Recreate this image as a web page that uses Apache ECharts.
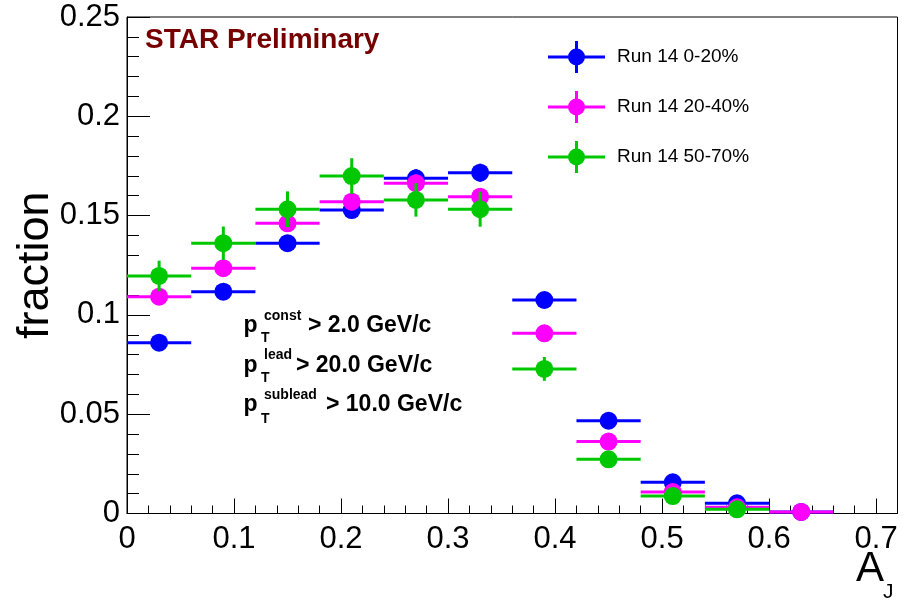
<!DOCTYPE html>
<html>
<head>
<meta charset="utf-8">
<title>Dijet momentum imbalance A_J</title>
<script src="https://cdn.jsdelivr.net/npm/echarts@6/dist/echarts.min.js"></script>
<style>
  html, body { margin: 0; padding: 0; background: #fff; }
  #chart { width: 911px; height: 601px; }
</style>
</head>
<body>
<div id="chart"></div>
<script>
// A_J bins: centres and full bin width
const binCenters = [0.03, 0.09, 0.15, 0.21, 0.27, 0.33, 0.39, 0.45, 0.51, 0.57, 0.63];
const binWidth = 0.06;

// Run 14, 0-20% centrality
const central = [0.0860, 0.1117, 0.1361, 0.1528, 0.1688, 0.1716, 0.1075, 0.0467, 0.0157, 0.0051, 0.0008];
const centralErr = [0.0030, 0.0035, 0.0040, 0.0042, 0.0045, 0.0045, 0.0035, 0.0020, 0.0012, 0.0007, 0.0003];

// Run 14, 20-40% centrality
const midCentral = [0.1092, 0.1235, 0.1461, 0.1570, 0.1663, 0.1595, 0.0907, 0.0362, 0.0108, 0.0031, 0.0008];
const midCentralErr = [0.0035, 0.0038, 0.0042, 0.0044, 0.0045, 0.0044, 0.0033, 0.0020, 0.0011, 0.0006, 0.0003];

// Run 14, 50-70% centrality (last bin empty)
const peripheral = [0.1196, 0.1361, 0.1532, 0.1699, 0.1579, 0.1532, 0.0728, 0.0273, 0.0088, 0.0021, null];
const peripheralErr = [0.0077, 0.0084, 0.0090, 0.0090, 0.0084, 0.0088, 0.0060, 0.0030, 0.0015, 0.0008, null];

const seriesNames = ['Run 14 0-20%', 'Run 14 20-40%', 'Run 14 50-70%'];
const seriesColors = ['#0000ff', '#ff00ff', '#00c800'];

const yTicks = { min: 0, max: 0.25, major: 0.05, minorSplit: 5 };
const xTicks = { min: 0, max: 0.72, major: 0.1, minor: 0.02 };

const FONT = 'Liberation Sans, Arial, Helvetica, sans-serif';

function toRows(values, errs) {
  const rows = [];
  for (let i = 0; i < binCenters.length; i++) {
    if (values[i] == null) continue;
    rows.push([binCenters[i], values[i], errs[i]]);
  }
  return rows;
}

// Point with full-bin horizontal bar, vertical error bar and filled circle marker
function renderPoint(params, api) {
  const x = api.value(0), y = api.value(1), ey = api.value(2);
  const c = api.coord([x, y]);
  const xl = api.coord([x - binWidth / 2, y])[0];
  const xr = api.coord([x + binWidth / 2, y])[0];
  const yt = api.coord([x, y + ey])[1];
  const yb = api.coord([x, y - ey])[1];
  const color = api.visual('color');
  return {
    type: 'group',
    children: [
      { type: 'line', shape: { x1: xl, y1: c[1], x2: xr, y2: c[1] }, style: { stroke: color, lineWidth: 3 } },
      { type: 'line', shape: { x1: c[0], y1: yt, x2: c[0], y2: yb }, style: { stroke: color, lineWidth: 3 } },
      { type: 'circle', shape: { cx: c[0], cy: c[1], r: 9 }, style: { fill: color } }
    ]
  };
}

const datasets = [toRows(central, centralErr), toRows(midCentral, midCentralErr), toRows(peripheral, peripheralErr)];

const series = datasets.map((rows, i) => ({
  name: seriesNames[i],
  type: 'custom',
  xAxisIndex: 0,
  yAxisIndex: 0,
  clip: false,
  renderItem: renderPoint,
  itemStyle: { color: seriesColors[i] },
  encode: { x: 0, y: 1 },
  data: rows,
  z: 10 + i
}));

// Legend symbol: horizontal bar + vertical bar + round marker
const legendIcon = 'path://M0 15.5H57V18.5H0Z M27 1H30V33H27Z M20 17A8.5 8.5 0 1 1 37 17A8.5 8.5 0 1 1 20 17Z';

const chart = echarts.init(document.getElementById('chart'), null, { renderer: 'canvas' });

const axisLineStyle = { color: '#000', width: 1 };

chart.setOption({
  animation: false,
  backgroundColor: '#fff',
  grid: {
    left: 127, right: 13.5, top: 17, bottom: 87.5,
    outerBoundsMode: 'none',
    containLabel: false,
    show: true, borderColor: '#000', borderWidth: 1, backgroundColor: 'transparent'
  },
  legend: {
    orient: 'vertical',
    left: 548,
    top: 41,
    padding: 0,
    itemWidth: 57,
    itemHeight: 34,
    itemGap: 18,
    icon: legendIcon,
    selectedMode: false,
    data: seriesNames,
    textStyle: { fontSize: 19, color: '#000', fontFamily: FONT, padding: [0, 0, 0, 7] }
  },
  xAxis: [
    {
      type: 'value',
      min: xTicks.min, max: xTicks.max, interval: xTicks.major,
      position: 'bottom',
      axisLine: { show: true, lineStyle: axisLineStyle },
      axisTick: { show: true, inside: true, length: 15, lineStyle: axisLineStyle },
      splitLine: { show: false },
      axisLabel: {
        fontSize: 31, color: '#000', fontFamily: FONT, margin: 10,
        showMaxLabel: false,
        formatter: v => String(Math.round(v * 10) / 10)
      }
    },
    {
      type: 'value',
      min: xTicks.min, max: xTicks.max, interval: xTicks.minor,
      position: 'bottom',
      axisLine: { show: false },
      axisTick: { show: true, inside: true, length: 8, lineStyle: axisLineStyle },
      splitLine: { show: false },
      axisLabel: { show: false }
    }
  ],
  yAxis: {
    type: 'value',
    min: yTicks.min, max: yTicks.max, interval: yTicks.major,
    name: 'fraction',
    nameLocation: 'middle',
    nameRotate: 90,
    nameGap: 69,
    nameMoveOverlap: false,
    nameTextStyle: { fontSize: 45, color: '#000', fontFamily: FONT },
    axisLine: { show: true, lineStyle: axisLineStyle },
    axisTick: { show: true, inside: true, length: 23, lineStyle: axisLineStyle },
    minorTick: { show: true, splitNumber: yTicks.minorSplit, length: 12, lineStyle: axisLineStyle },
    splitLine: { show: false },
    minorSplitLine: { show: false },
    axisLabel: { fontSize: 31, color: '#000', fontFamily: FONT, margin: 7 }
  },
  graphic: [
    // preliminary tag
    { type: 'text', x: 145, y: 40.5, style: { text: 'STAR Preliminary', font: 'bold 28px ' + FONT, fill: '#760000', textVerticalAlign: 'middle' } },
    // x-axis title A_J
    { type: 'text', x: 884, y: 569.5, style: { text: 'A', font: '42px ' + FONT, fill: '#000', textAlign: 'right', textVerticalAlign: 'middle' } },
    { type: 'text', x: 883, y: 592.5, style: { text: 'J', font: '21px ' + FONT, fill: '#000', textAlign: 'left', textVerticalAlign: 'middle' } },
    // kinematic cuts
    { type: 'text', x: 243.5, y: 325.3, style: { text: 'p', font: 'bold 23px ' + FONT, fill: '#000', textVerticalAlign: 'middle' } },
    { type: 'text', x: 264, y: 316, style: { text: 'const', font: 'bold 14px ' + FONT, fill: '#000', textVerticalAlign: 'middle' } },
    { type: 'text', x: 261, y: 338, style: { text: 'T', font: 'bold 14px ' + FONT, fill: '#000', textVerticalAlign: 'middle' } },
    { type: 'text', x: 308, y: 325.3, style: { text: '> 2.0 GeV/c', font: 'bold 23px ' + FONT, fill: '#000', textVerticalAlign: 'middle' } },

    { type: 'text', x: 243.5, y: 366, style: { text: 'p', font: 'bold 23px ' + FONT, fill: '#000', textVerticalAlign: 'middle' } },
    { type: 'text', x: 264, y: 355.6, style: { text: 'lead', font: 'bold 14px ' + FONT, fill: '#000', textVerticalAlign: 'middle' } },
    { type: 'text', x: 261, y: 378, style: { text: 'T', font: 'bold 14px ' + FONT, fill: '#000', textVerticalAlign: 'middle' } },
    { type: 'text', x: 296, y: 366, style: { text: '> 20.0 GeV/c', font: 'bold 23px ' + FONT, fill: '#000', textVerticalAlign: 'middle' } },

    { type: 'text', x: 243.5, y: 404.7, style: { text: 'p', font: 'bold 23px ' + FONT, fill: '#000', textVerticalAlign: 'middle' } },
    { type: 'text', x: 264, y: 395, style: { text: 'sublead', font: 'bold 14px ' + FONT, fill: '#000', textVerticalAlign: 'middle' } },
    { type: 'text', x: 261, y: 419, style: { text: 'T', font: 'bold 14px ' + FONT, fill: '#000', textVerticalAlign: 'middle' } },
    { type: 'text', x: 326, y: 404.7, style: { text: '> 10.0 GeV/c', font: 'bold 23px ' + FONT, fill: '#000', textVerticalAlign: 'middle' } }
  ],
  series: series
});
</script>
</body>
</html>
